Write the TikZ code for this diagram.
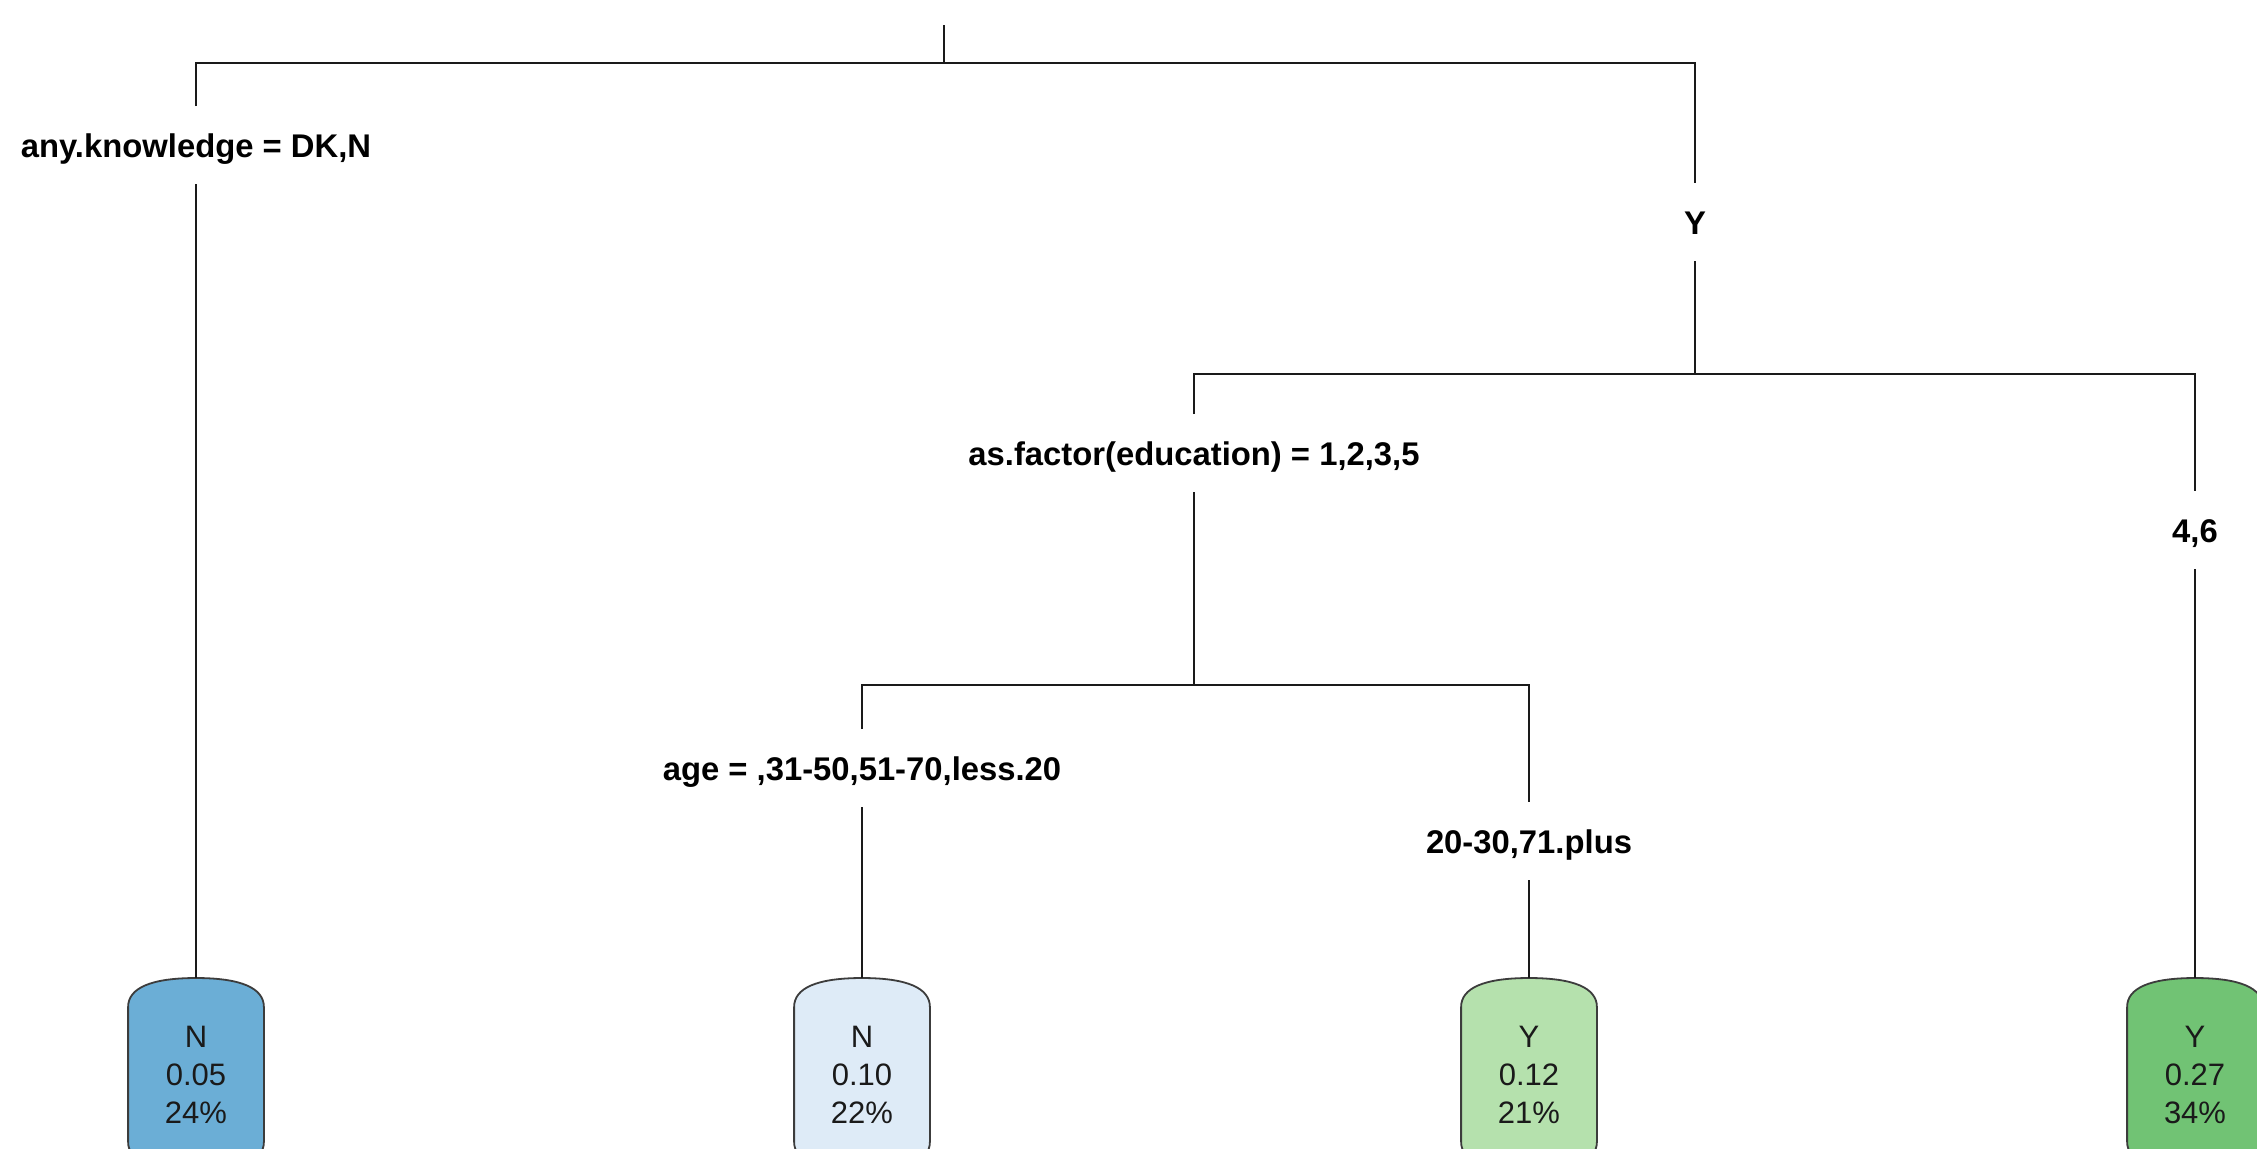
\documentclass[tikz,border=0pt]{standalone}
\usepackage{fontspec}
\setmainfont{Liberation Sans}
\usetikzlibrary{backgrounds,calc}
\definecolor{leafA}{HTML}{6BAED6}
\definecolor{leafB}{HTML}{DEEBF7}
\definecolor{leafC}{HTML}{B5E1AD}
\definecolor{leafD}{HTML}{71C374}
\definecolor{ink}{HTML}{1A1A1A}
\newcommand\leafbody[3]{\vbox to 96pt{\hsize=67.5pt\parindent=0pt\centering\baselineskip=19pt\vskip22.5pt\rule{0pt}{12pt}#1\par#2\par#3\par\vfill}}
\newcommand\drawleaf[2]{%
 \path[leafedge,fill=#2]
 ($(#1.south west)+(0,-29)$) -- ($(#1.north west)+(0,29)$)
 .. controls ($(#1.north west)+(0,10)$) and ($(#1.north)+(-45,0)$) .. (#1.north)
 .. controls ($(#1.north)+(45,0)$) and ($(#1.north east)+(0,10)$) .. ($(#1.north east)+(0,29)$)
 -- ($(#1.south east)+(0,-29)$)
 .. controls ($(#1.south east)+(0,-10)$) and ($(#1.south)+(45,0)$) .. (#1.south)
 .. controls ($(#1.south)+(-45,0)$) and ($(#1.south west)+(0,-10)$) .. ($(#1.south west)+(0,-29)$) -- cycle;}
\tikzset{
 edge/.style={draw=ink,line width=1pt},
 leafedge/.style={draw=ink!85,line width=0.9pt},
 split/.style={anchor=base,font=\fontsize{16.4}{19}\selectfont\bfseries,text=black,
   text height=11.7pt,text depth=0pt,inner xsep=2pt,inner ysep=13.5pt},
 leaf/.style={anchor=north,inner sep=0pt,minimum width=67.5pt,minimum height=96pt,
   font=\fontsize{15.5}{19}\selectfont,text=ink}
}
\begin{document}
\begin{tikzpicture}[x=0.5pt,y=-0.5pt]
\useasboundingbox (0,0) rectangle (2257,1148);
% junctions
\coordinate (top) at (944,25);
\coordinate (j1) at (944,63);
\coordinate (j2) at (1695,374);
\coordinate (j3) at (1194,685);
% split labels
\node[split] (sk) at (196,157) {any.knowledge = DK,N};
\node[split] (sy) at (1695,234) {Y};
\node[split] (se) at (1194,465) {as.factor(education) = 1,2,3,5};
\node[split] (s46) at (2195,542) {4,6};
\node[split] (sa) at (862,780) {age = ,31-50,51-70,less.20};
\node[split] (s20) at (1529,853) {20-30,71.plus};
% leaves
\node[leaf] (l1) at (196,978) {\leafbody{N}{0.05}{24\%}};
\node[leaf] (l2) at (862,978) {\leafbody{N}{0.10}{22\%}};
\node[leaf] (l3) at (1529,978) {\leafbody{Y}{0.12}{21\%}};
\node[leaf] (l4) at (2195,978) {\leafbody{Y}{0.27}{34\%}};
% connectors
\draw[edge] (top) -- (j1);
\draw[edge] (sk) |- (j1) -| (sy);
\draw[edge] (sk) -- (l1);
\draw[edge] (sy) -- (j2);
\draw[edge] (se) |- (j2) -| (s46);
\draw[edge] (s46) -- (l4);
\draw[edge] (se) -- (j3);
\draw[edge] (sa) |- (j3) -| (s20);
\draw[edge] (sa) -- (l2);
\draw[edge] (s20) -- (l3);
\begin{scope}[on background layer]
 \fill[white] (0,0) rectangle (2257,1148);
 \clip (0,0) rectangle (2257,1148);
 \drawleaf{l1}{leafA}
 \drawleaf{l2}{leafB}
 \drawleaf{l3}{leafC}
 \drawleaf{l4}{leafD}
\end{scope}
\end{tikzpicture}
\end{document}
